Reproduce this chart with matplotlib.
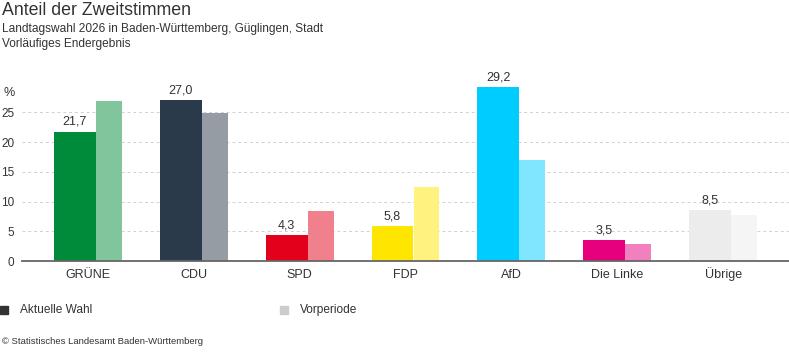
import matplotlib.pyplot as plt
import numpy as np

plt.rcParams['font.family'] = ['Liberation Sans', 'DejaVu Sans']

# Daten
parteien = ['GRÜNE', 'CDU', 'SPD', 'FDP', 'AfD', 'Die Linke', 'Übrige']
aktuell = [21.7, 27.0, 4.3, 5.8, 29.2, 3.5, 8.5]
vorperiode = [26.9, 24.9, 8.4, 12.4, 16.9, 2.9, 7.7]
aktuell_labels = ['21,7', '27,0', '4,3', '5,8', '29,2', '3,5', '8,5']
farben_aktuell = ['#008b3a', '#2b3a4a', '#e2001a', '#ffe600', '#00ccff', '#e6007e', '#ececec']
farben_vor = ['#80c59c', '#959ca4', '#f0808c', '#fff27f', '#80e5ff', '#f280be', '#f5f5f5']
y_ticks = [0, 5, 10, 15, 20, 25]

fig = plt.figure(figsize=(7.89, 3.52), dpi=100)
ax = fig.add_axes([0.0279, 0.2585, 0.9721, 0.5071])

x = np.arange(len(parteien))
w_akt = 0.396
w_vor = 0.245
ax.bar(x - 0.123, aktuell, width=w_akt, color=farben_aktuell, zorder=3)
ax.bar(x + 0.198, vorperiode, width=w_vor, color=farben_vor, zorder=2)

for xi, v, lab in zip(x, aktuell, aktuell_labels):
    ax.text(xi - 0.123, v + 0.7, lab, ha='center', va='bottom', fontsize=9, color='#333333')

ax.set_xlim(-0.62, 6.62)
ax.set_ylim(0, 30)
ax.set_yticks(y_ticks)
ax.set_yticklabels([str(t) for t in y_ticks], fontsize=8.5, color='#333333')
ax.set_xticks(x)
ax.set_xticklabels(parteien, fontsize=9, color='#333333', va='baseline')
ax.tick_params(axis='y', length=0, pad=5.5)
ax.tick_params(axis='x', length=0, pad=12)

for t in y_ticks[1:]:
    ax.axhline(t, color='#d0d0d0', lw=0.7, ls=(0, (3, 3)), zorder=1)

for s in ['top', 'right', 'left']:
    ax.spines[s].set_visible(False)
ax.spines['bottom'].set_color('#666666')
ax.spines['bottom'].set_linewidth(1.3)
ax.spines['bottom'].set_zorder(4)

# Texte
fig.text(0.003, 0.995, 'Anteil der Zweitstimmen', fontsize=12.8, color='#333333', va='top', ha='left')
fig.text(0.003, 0.935, 'Landtagswahl 2026 in Baden-Württemberg, Güglingen, Stadt', fontsize=8.6, color='#333333', va='top', ha='left')
fig.text(0.003, 0.893, 'Vorläufiges Endergebnis', fontsize=8.6, color='#333333', va='top', ha='left')
fig.text(0.004, 1 - 93 / 352, '%', fontsize=9, color='#333333', va='center', ha='left')

# Legende
fig.patches.append(plt.Rectangle((0.0, 1 - 314 / 352), 8 / 789, 8 / 352, transform=fig.transFigure,
                                 color='#333333', figure=fig))
fig.text(20 / 789, 1 - 310 / 352, 'Aktuelle Wahl', fontsize=8.6, color='#333333', va='center', ha='left')
fig.patches.append(plt.Rectangle((280 / 789, 1 - 314 / 352), 8 / 789, 8 / 352, transform=fig.transFigure,
                                 color='#cccccc', figure=fig))
fig.text(300 / 789, 1 - 310 / 352, 'Vorperiode', fontsize=8.6, color='#333333', va='center', ha='left')
fig.text(0.003, 1 - 341 / 352, '© Statistisches Landesamt Baden-Württemberg', fontsize=6.8, color='#333333',
         va='center', ha='left')

fig.savefig('out.png', dpi=100)
